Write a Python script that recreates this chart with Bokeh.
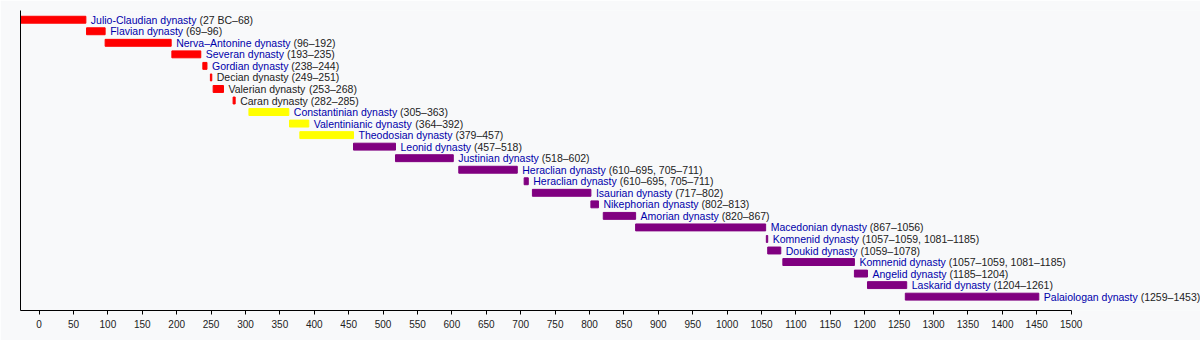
from bokeh.plotting import figure
from bokeh.models import ColumnDataSource, Range1d, FixedTicker
from bokeh.core.properties import value
from bokeh.embed import file_html
from bokeh.resources import INLINE

names = ["Julio-Claudian dynasty", "Flavian dynasty", "Nerva\u2013Antonine dynasty", "Severan dynasty",
         "Gordian dynasty", "Decian dynasty", "Valerian dynasty", "Caran dynasty",
         "Constantinian dynasty", "Valentinianic dynasty", "Theodosian dynasty",
         "Leonid dynasty", "Justinian dynasty", "Heraclian dynasty", "Heraclian dynasty",
         "Isaurian dynasty", "Nikephorian dynasty", "Amorian dynasty", "Macedonian dynasty",
         "Komnenid dynasty", "Doukid dynasty", "Komnenid dynasty", "Angelid dynasty",
         "Laskarid dynasty", "Palaiologan dynasty"]
dates = ["(27 BC\u201368)", "(69\u201396)", "(96\u2013192)", "(193\u2013235)", "(238\u2013244)",
         "(249\u2013251)", "(253\u2013268)", "(282\u2013285)", "(305\u2013363)", "(364\u2013392)",
         "(379\u2013457)", "(457\u2013518)", "(518\u2013602)", "(610\u2013695, 705\u2013711)",
         "(610\u2013695, 705\u2013711)", "(717\u2013802)", "(802\u2013813)", "(820\u2013867)",
         "(867\u20131056)", "(1057\u20131059, 1081\u20131185)", "(1059\u20131078)",
         "(1057\u20131059, 1081\u20131185)", "(1185\u20131204)", "(1204\u20131261)", "(1259\u20131453)"]
starts = [-27, 69, 96, 193, 238, 249, 253, 282, 305, 364, 379, 457, 518, 610, 705, 717, 802, 820,
          867, 1057, 1059, 1081, 1185, 1204, 1259]
ends = [68, 96, 192, 235, 244, 251, 268, 285, 363, 392, 457, 518, 602, 695, 711, 802, 813, 867,
        1056, 1059, 1078, 1185, 1204, 1261, 1453]
eras = ["west"] * 8 + ["late"] * 3 + ["east"] * 14
linked = [True] * 5 + [False] * 3 + [True] * 17
tick_values = list(range(0, 1501, 50))

era_colors = {"west": "#ff0000", "late": "#ffff00", "east": "#800080"}
LINK = "#0000aa"
PLAIN = "#222222"
FONT = "Liberation Sans"
FS = 10.5

# Arial / Liberation Sans advance widths (1/1000 em) for label layout
W = {" ": 278, "(": 333, ")": 333, "-": 333, "\u2013": 556, ",": 278,
     "A": 667, "B": 667, "C": 722, "D": 722, "F": 611, "G": 778, "H": 722, "I": 278, "J": 500,
     "K": 667, "L": 556, "M": 833, "N": 722, "P": 667, "S": 667, "T": 611, "V": 667,
     "a": 556, "b": 556, "c": 500, "d": 556, "e": 556, "f": 278, "g": 556, "h": 556, "i": 222,
     "j": 222, "k": 500, "l": 222, "m": 833, "n": 556, "o": 556, "p": 556, "q": 556, "r": 333,
     "s": 500, "t": 278, "u": 556, "v": 500, "w": 722, "x": 500, "y": 500, "z": 500}


def text_width(s):
    return sum(W.get(c, 556) for c in s) * FS / 1000.0


rows = list(range(len(names)))
src = ColumnDataSource(dict(
    y=rows, left=starts, right=ends,
    color=[era_colors[e] for e in eras],
    name=names, dates=dates,
    name_color=[LINK if l else PLAIN for l in linked],
    name_off=[5.0] * len(names),
    date_off=[5.0 + text_width(n + " ") for n in names],
))

p = figure(width=1200, height=340, output_backend="svg", toolbar_location=None,
           x_range=Range1d(-27, 1688), y_range=Range1d(25.2, -0.8),
           min_border_left=20, min_border_right=0, min_border_top=10, min_border_bottom=30,
           background_fill_color="#f8f9fa", border_fill_color="#f8f9fa", outline_line_color=None)
p.grid.visible = False

p.hbar(y="y", left="left", right="right", height=0.6, color="color", source=src)
p.text(x="right", y="y", text="name", x_offset="name_off", text_color="name_color",
       text_font=value(FONT), text_font_size=f"{FS}px", text_baseline="middle", source=src)
p.text(x="right", y="y", text="dates", x_offset="date_off", text_color=PLAIN,
       text_font=value(FONT), text_font_size=f"{FS}px", text_baseline="middle", source=src)

xa = p.xaxis[0]
xa.ticker = FixedTicker(ticks=tick_values)
xa.bounds = (-27, 1500)
xa.axis_line_color = "#000000"
xa.major_tick_line_color = "#000000"
xa.major_tick_out = 4
xa.major_tick_in = 0
xa.minor_tick_out = 0
xa.minor_tick_in = 0
xa.major_label_text_font = FONT
xa.major_label_text_font_size = "10px"
xa.major_label_text_color = "#222222"
xa.major_label_standoff = 5

ya = p.yaxis[0]
ya.ticker = FixedTicker(ticks=[])
ya.major_label_text_font_size = "0px"
ya.major_tick_out = 0
ya.major_tick_in = 0
ya.minor_tick_out = 0
ya.minor_tick_in = 0
ya.axis_line_color = "#000000"

open("out.html", "w").write(file_html(p, INLINE))
